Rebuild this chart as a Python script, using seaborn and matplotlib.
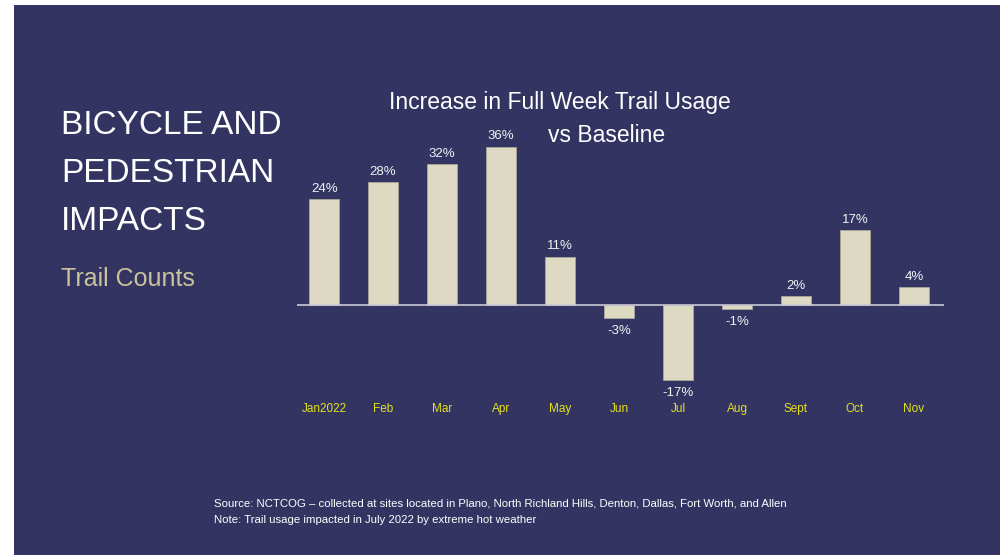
#!/usr/bin/env python3
# coding: utf-8
import pandas as pd
import seaborn as sns
import matplotlib.pyplot as plt
from matplotlib.patches import Rectangle

# ------------------------------------------------
# Data
# ------------------------------------------------
months = ["Jan2022", "Feb", "Mar", "Apr", "May", "Jun", "Jul", "Aug", "Sept", "Oct", "Nov"]
increase = [24, 28, 32, 36, 11, -3, -17, -1, 2, 17, 4]

navy = "#343463"
bar_color = "#ddd9c3"
tick_yellow = "#e2e21a"

# ------------------------------------------------
# Figure
# ------------------------------------------------
sns.set_theme(style="white", context="paper")
plt.rcParams['font.family'] = ['Liberation Sans', 'DejaVu Sans']

fig = plt.figure(figsize=(10, 5.55), dpi=100)
fig.patch.set_facecolor("white")
# slide background
fig.add_artist(Rectangle((0.014, 0), 0.986, 1 - 5 / 555, transform=fig.transFigure,
                         facecolor=navy, edgecolor="none", zorder=0))

ax = fig.add_axes([0.297, 1 - 400 / 555, 0.647, 300 / 555])
ax.set_facecolor("none")

data = pd.DataFrame({"Month": months, "Increase": increase})
sns.barplot(x="Month", y="Increase", data=data, ax=ax, color=bar_color, saturation=1,
            width=0.5, edgecolor="#a9a79a", linewidth=0.6, zorder=2)

ax.set_xlim(-0.46, 10.51)
ax.set_ylim(-21.6, 46.6)
ax.axhline(0, color="#c9c9d6", lw=1.2, zorder=3)
for s in ax.spines.values():
    s.set_visible(False)
ax.set_yticks([])
ax.set_xlabel("")
ax.set_ylabel("")
ax.tick_params(axis="x", length=0, pad=2, labelsize=8.5, labelcolor=tick_yellow)

for i, v in enumerate(increase):
    if v >= 0:
        ax.annotate(f"{v}%", (i, v), xytext=(0, 3), textcoords="offset points",
                    ha="center", va="bottom", color="#f2f2f2", fontsize=9.5)
    else:
        ax.annotate(f"{v}%", (i, v), xytext=(0, -5), textcoords="offset points",
                    ha="center", va="top", color="#f2f2f2", fontsize=9.5)

# ------------------------------------------------
# Text
# ------------------------------------------------
fig.text(0.560, 1 - 102 / 555, "Increase in Full Week Trail Usage", ha="center", va="center",
         color="white", fontsize=16.5)
fig.text(0.607, 1 - 135 / 555, "vs Baseline", ha="center", va="center",
         color="white", fontsize=16.5)

for y, line in zip([125, 174, 222], ["BICYCLE AND", "PEDESTRIAN", "IMPACTS"]):
    fig.text(0.061, 1 - y / 555, line, ha="left", va="center", color="white", fontsize=24)
fig.text(0.061, 1 - 279 / 555, "Trail Counts", ha="left", va="center",
         color="#c9c29b", fontsize=18)

fig.text(0.214, 1 - 503 / 555,
         "Source: NCTCOG \u2013 collected at sites located in Plano, North Richland Hills, Denton, Dallas, Fort Worth, and Allen",
         ha="left", va="center", color="white", fontsize=8.2)
fig.text(0.214, 1 - 520 / 555, "Note: Trail usage impacted in July 2022 by extreme hot weather",
         ha="left", va="center", color="white", fontsize=8.2)

plt.savefig("out.png", dpi=100)
plt.close(fig)
